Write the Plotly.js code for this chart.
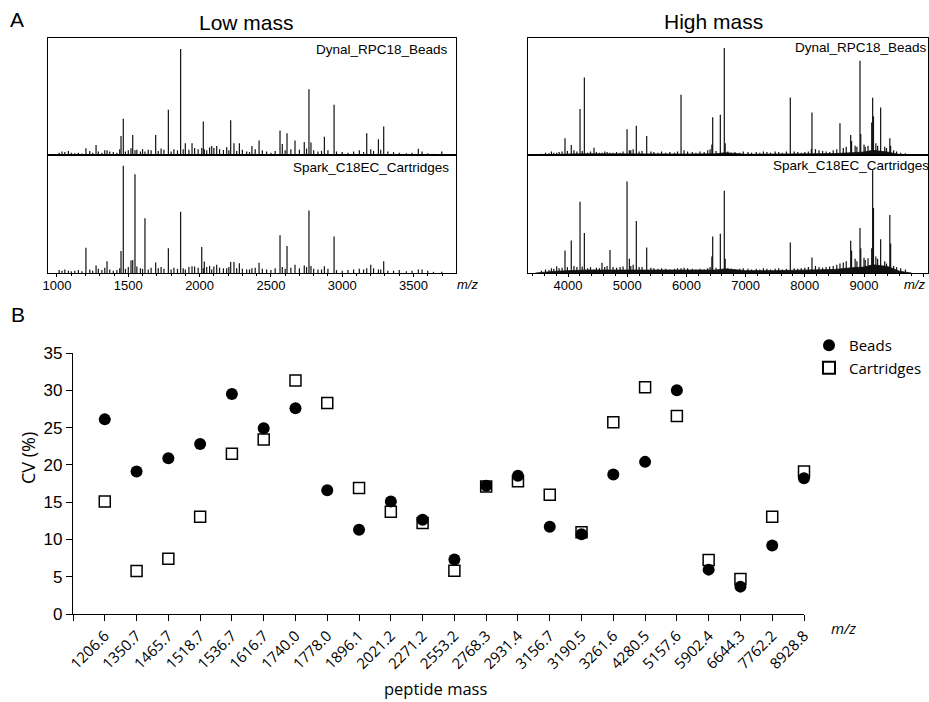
<!DOCTYPE html>
<html>
<head>
<meta charset="utf-8">
<script src="https://cdn.plot.ly/plotly-3.0.1.min.js"></script>
<style>html,body{margin:0;padding:0;background:#fff;}#chart{width:929px;height:702px;}</style>
</head>
<body>
<div id="chart"></div>
<script>
// ---------- Panel B data ----------
const peptideMass = ['1206.6','1350.7','1465.7','1518.7','1536.7','1616.7','1740.0','1778.0','1896.1','2021.2','2271.2','2553.2','2768.3','2931.4','3156.7','3190.5','3261.6','4280.5','5157.6','5902.4','6644.3','7762.2','8928.8'];
const beadsCV = [26.1,19.1,20.9,22.8,29.5,24.9,27.6,16.6,11.3,15.1,12.65,7.3,17.2,18.55,11.7,10.7,18.7,20.4,30.0,5.95,3.67,9.2,18.2];
const cartridgesCV = [15.1,5.77,7.4,13.05,21.5,23.4,31.3,28.3,16.9,13.7,12.2,5.8,17.1,17.8,16.0,10.95,25.7,30.4,26.55,7.24,4.7,13.05,19.1];
const cvTicks = [0,5,10,15,20,25,30,35];

// ---------- Panel A: low mass spectra (relative intensity) ----------
const lowPeakMz = [1203,1274,1351,1449,1465,1519,1531,1547,1617,1692,1781,1867,1900,1947,2015,2026,2033,2085,2120,2167,2190,2218,2241,2279,2367,2417,2564,2580,2613,2669,2734,2767,2781,2875,2943,3172,3200,3254,3291,3534,3698];
const lowPeakBeads = [0.057,0.086,0.04,0.163,0.309,0.057,0.171,0.04,0.03,0.171,0.386,0.906,0.10,0.10,0.06,0.286,0.05,0.077,0.077,0.043,0.066,0.297,0.10,0.10,0.077,0.123,0.209,0.094,0.186,0.123,0.111,0.563,0.106,0.157,0.429,0.186,0.05,0.134,0.243,0.054,0.03];
const lowPeakCart = [0.214,0.063,0.10,0.186,0.909,0.106,0.11,0.837,0.463,0.09,0.209,0.52,0.03,0.057,0.22,0.04,0.097,0.03,0.069,0.04,0.04,0.094,0.094,0.083,0.04,0.086,0.32,0.05,0.229,0.07,0.063,0.529,0.06,0.057,0.309,0.04,0.069,0.03,0.10,0.03,0.01];
const lowNoiseMz = [
  1015,1035,1055,1080,1100,1125,1150,1175,1230,1250,1290,1315,
  1335,1370,1395,1420,1440,1480,1500,1560,1585,1600,1640,1660,
  1710,1730,1750,1800,1820,1845,1885,1925,1965,1990,2050,2070,
  2100,2140,2205,2260,2300,2330,2350,2390,2440,2470,2500,2530,
  2600,2640,2700,2750,2800,2830,2855,2900,2960,3000,3040,3080,
  3120,3150,3220,3270,3320,3360,3400,3450,3490,3560,3600,3640];
const lowNoiseBeads = [
  .02,.03,.025,.035,.02,.015,.02,.012,.035,.02,.03,.02,
  .04,.03,.025,.02,.05,.03,.04,.045,.03,.05,.045,.04,
  .035,.055,.045,.03,.05,.04,.05,.045,.06,.05,.04,.065,
  .06,.05,.04,.035,.045,.03,.025,.05,.04,.03,.02,.035,
  .04,.05,.045,.055,.04,.03,.035,.04,.03,.025,.02,.03,
  .04,.025,.035,.045,.03,.025,.02,.015,.02,.03,.015,.01];
const lowNoiseCart = [
  .025,.02,.03,.02,.015,.02,.025,.015,.03,.02,.035,.025,
  .045,.03,.02,.025,.04,.035,.05,.055,.04,.035,.03,.045,
  .04,.05,.035,.03,.045,.035,.04,.05,.055,.045,.05,.06,
  .055,.045,.05,.04,.035,.03,.03,.045,.035,.03,.025,.04,
  .035,.045,.04,.05,.035,.03,.03,.035,.025,.02,.025,.03,
  .035,.03,.04,.03,.02,.02,.025,.015,.02,.03,.02,.01];

// ---------- Panel A: high mass spectra ----------
const highPeakMz = [3809,3949,4055,4203,4276,4439,4574,4709,4997,5036,5154,5329,5909,6430,6444,6573,6640,6655,7755,8110,8121,8594,8775,8790,8932,8945,9068,9130,9146,9160,9281,9436,9450];
const highPeakBeads = [0.02,0.143,0.086,0.394,0.663,0.063,0.02,0.02,0.22,0.04,0.251,0.163,0.514,0.09,0.323,0.343,0.914,0.10,0.491,0.05,0.363,0.271,0.171,0.12,0.806,0.18,0.08,0.277,0.489,0.33,0.406,0.143,0.08];
const highPeakCart = [0.057,0.19,0.276,0.603,0.339,0.03,0.086,0.195,0.776,0.12,0.44,0.216,0.04,0.14,0.31,0.333,0.698,0.12,0.259,0.03,0.132,0.08,0.273,0.19,0.382,0.21,0.124,0.21,0.87,0.55,0.287,0.491,0.25];
const highNoiseMz = [
  3550,3620,3680,3720,3760,3850,3900,3990,4100,4150,4240,4330,
  4380,4480,4530,4620,4660,4760,4820,4880,4930,5060,5100,5200,
  5250,5400,5450,5520,5580,5650,5720,5800,5850,5960,6020,6100,
  6160,6230,6300,6360,6400,6500,6700,6760,6820,6900,6960,7040,
  7100,7180,7240,7300,7360,7420,7500,7560,7620,7690,7820,7880,
  7940,8000,8060,8180,8240,8300,8360,8420,8480,8540,8650,8700,
  8850,8880,9000,9020,9200,9230,9350,9380,9500,9550,9620,9700];
const highNoiseBeads = [
  .01,.02,.015,.03,.02,.025,.03,.035,.04,.03,.035,.02,
  .03,.025,.02,.03,.025,.02,.025,.02,.03,.04,.05,.03,
  .035,.03,.025,.02,.03,.02,.025,.02,.03,.04,.03,.025,
  .02,.03,.025,.04,.05,.035,.03,.02,.025,.02,.03,.025,
  .02,.025,.02,.03,.025,.02,.03,.025,.02,.03,.03,.025,
  .02,.025,.03,.05,.04,.035,.03,.025,.04,.05,.06,.07,
  .08,.07,.09,.07,.10,.08,.07,.06,.04,.03,.02,.015];
const highNoiseCart = [
  .02,.03,.025,.04,.035,.04,.045,.05,.06,.05,.055,.04,
  .05,.045,.04,.05,.06,.05,.045,.05,.055,.06,.07,.05,
  .05,.045,.04,.035,.04,.035,.03,.035,.04,.045,.04,.035,
  .03,.035,.03,.04,.05,.045,.04,.035,.03,.035,.04,.035,
  .03,.035,.03,.04,.035,.03,.035,.04,.03,.035,.04,.035,
  .04,.045,.05,.06,.05,.045,.05,.055,.06,.07,.09,.10,
  .12,.10,.13,.11,.14,.12,.10,.08,.06,.05,.04,.03];
const highFloorMz = [3450,3600,3800,4000,4300,4700,5000,5500,6000,6500,6650,7000,7500,8000,8500,8800,9000,9150,9400,9600,9800];
const highFloorBeads = [0,0.003,0.005,0.008,0.01,0.008,0.01,0.008,0.008,0.01,0.02,0.006,0.006,0.008,0.012,0.02,0.025,0.04,0.025,0.005,0];
const highFloorCart = [0,0.008,0.015,0.02,0.025,0.025,0.025,0.02,0.02,0.025,0.035,0.02,0.02,0.025,0.03,0.045,0.05,0.07,0.055,0.015,0];

// ---------- helpers ----------
const W = 929, H = 702;
const px = v => v / W;
const py = v => 1 - v / H;
function stems(mzA, hA, mzB, hB) {
  const x = [], y = [];
  [[mzA, hA], [mzB, hB]].forEach(([m, h]) => {
    m.forEach((v, i) => { x.push(v, v, null); y.push(0, h[i], null); });
  });
  return {x, y};
}
function stemTrace(s, xa, ya) {
  return {type: 'scatter', mode: 'lines', x: s.x, y: s.y, xaxis: xa, yaxis: ya,
    line: {color: '#111', width: 1.2}, showlegend: false, hoverinfo: 'skip'};
}
function floorTrace(mz, h, xa, ya) {
  return {type: 'scatter', mode: 'lines', x: mz, y: h, xaxis: xa, yaxis: ya, fill: 'tozeroy',
    fillcolor: '#111', line: {color: '#111', width: 0.8}, showlegend: false, hoverinfo: 'skip'};
}

const traces = [
  stemTrace(stems(lowNoiseMz, lowNoiseBeads, lowPeakMz, lowPeakBeads), 'x', 'y'),
  stemTrace(stems(lowNoiseMz, lowNoiseCart, lowPeakMz, lowPeakCart), 'x2', 'y2'),
  floorTrace(highFloorMz, highFloorBeads, 'x3', 'y3'),
  stemTrace(stems(highNoiseMz, highNoiseBeads, highPeakMz, highPeakBeads), 'x3', 'y3'),
  floorTrace(highFloorMz, highFloorCart, 'x4', 'y4'),
  stemTrace(stems(highNoiseMz, highNoiseCart, highPeakMz, highPeakCart), 'x4', 'y4'),
  {type: 'scatter', mode: 'markers', name: 'Cartridges', legendrank: 2, cliponaxis: false,
    x: peptideMass.map((_, i) => i), y: cartridgesCV, xaxis: 'x5', yaxis: 'y5',
    marker: {symbol: 'square', size: 11, color: '#fff', line: {color: '#000', width: 1.5}}},
  {type: 'scatter', mode: 'markers', name: 'Beads', legendrank: 1, cliponaxis: false,
    x: peptideMass.map((_, i) => i), y: beadsCV, xaxis: 'x5', yaxis: 'y5',
    marker: {symbol: 'circle', size: 12, color: '#000', line: {width: 0}}}
];

const specY = {range: [0, 1], showline: true, mirror: true, linecolor: '#000', linewidth: 1,
  showticklabels: false, ticks: '', showgrid: false, zeroline: false, fixedrange: true};
function specX(extra) {
  return Object.assign({showline: true, mirror: true, linecolor: '#000', linewidth: 1,
    showgrid: false, zeroline: false, ticks: '', showticklabels: false}, extra);
}
const lowDom = [px(48), px(456)], lowRange = [937, 3798];
const highDom = [px(528), px(928)], highRange = [3324, 10081];
const topDom = [py(155), py(38)], botDom = [py(273), py(155)];
const tickF = {family: 'Liberation Sans, Arial, sans-serif', size: 13, color: '#000'};

function ann(text, x, y, font, extra) {
  return Object.assign({text, x: px(x), y: py(y), xref: 'paper', yref: 'paper', showarrow: false,
    xanchor: 'center', yanchor: 'middle', font}, extra || {});
}
const arial = s => ({family: 'Liberation Sans, Arial, sans-serif', size: s, color: '#000'});
const humanist = s => ({family: 'Open Sans, sans-serif', size: s, color: '#000'});

const layout = {
  width: W, height: H, margin: {l: 0, r: 0, t: 0, b: 0},
  paper_bgcolor: '#fff', plot_bgcolor: 'rgba(0,0,0,0)',
  font: {family: 'Liberation Sans, Arial, sans-serif', color: '#000'},
  xaxis: specX({domain: lowDom, range: lowRange, anchor: 'y'}),
  yaxis: Object.assign({}, specY, {domain: topDom, anchor: 'x'}),
  xaxis2: specX({domain: lowDom, range: lowRange, anchor: 'y2', ticks: 'outside', ticklen: 3,
    tickcolor: '#000', showticklabels: true, tick0: 1000, dtick: 500, tickfont: tickF,
    tickformat: 'd', ticklabelstandoff: -3,
    minor: {ticks: 'outside', ticklen: 2, dtick: 100, tick0: 1000, tickcolor: '#000'}}),
  yaxis2: Object.assign({}, specY, {domain: botDom, anchor: 'x2'}),
  xaxis3: specX({domain: highDom, range: highRange, anchor: 'y3'}),
  yaxis3: Object.assign({}, specY, {domain: topDom, anchor: 'x3'}),
  xaxis4: specX({domain: highDom, range: highRange, anchor: 'y4', ticks: 'outside', ticklen: 3,
    tickcolor: '#000', showticklabels: true, tick0: 4000, dtick: 1000, tickfont: tickF,
    tickformat: 'd', ticklabelstandoff: -3,
    minor: {ticks: 'outside', ticklen: 2, dtick: 200, tick0: 4000, tickcolor: '#000'}}),
  yaxis4: Object.assign({}, specY, {domain: botDom, anchor: 'x4'}),
  xaxis5: {domain: [px(73), px(804)], anchor: 'y5', range: [-1, 22],
    tickmode: 'array', tickvals: [-1].concat(peptideMass.map((_, i) => i)),
    ticktext: [''].concat(peptideMass), tickangle: -45,
    tickfont: humanist(15),
    ticks: 'outside', ticklen: 6, tickcolor: '#000', showline: true, linecolor: '#000',
    linewidth: 1.2, showgrid: false, zeroline: false},
  yaxis5: {domain: [py(614), py(353)], anchor: 'x5', range: [0, 35], tickmode: 'array',
    tickvals: cvTicks, ticks: 'outside', ticklen: 6, tickcolor: '#000', showline: true,
    linecolor: '#000', linewidth: 1.2, showgrid: false, zeroline: false,
    tickfont: arial(17)},
  showlegend: true,
  legend: {x: px(809), y: py(329), xanchor: 'left', yanchor: 'top', bgcolor: 'rgba(0,0,0,0)',
    font: humanist(15), itemsizing: 'constant', tracegroupgap: 2},
  annotations: [
    ann('A', 17, 20, arial(21)),
    ann('B', 18, 314, arial(21)),
    ann('Low mass', 247, 22, arial(21)),
    ann('High mass', 713, 21, arial(21)),
    ann('Dynal_RPC18_Beads', 450, 49, arial(13.5), {xanchor: 'right'}),
    ann('Spark_C18EC_Cartridges', 451, 167, arial(13.5), {xanchor: 'right'}),
    ann('Dynal_RPC18_Beads', 929, 48, arial(13.5), {xanchor: 'right'}),
    ann('Spark_C18EC_Cartridges', 931, 166, arial(13.5), {xanchor: 'right'}),
    ann('<i>m/z</i>', 467, 284, arial(13)),
    ann('<i>m/z</i>', 914, 284, arial(13)),
    ann('<i>m/z</i>', 843, 628, humanist(15)),
    ann('peptide mass', 435, 688, humanist(16.5)),
    ann('CV (%)', 28, 458, humanist(18), {textangle: -90})
  ]
};

Plotly.newPlot('chart', traces, layout, {displayModeBar: false, staticPlot: true});
</script>
</body>
</html>
